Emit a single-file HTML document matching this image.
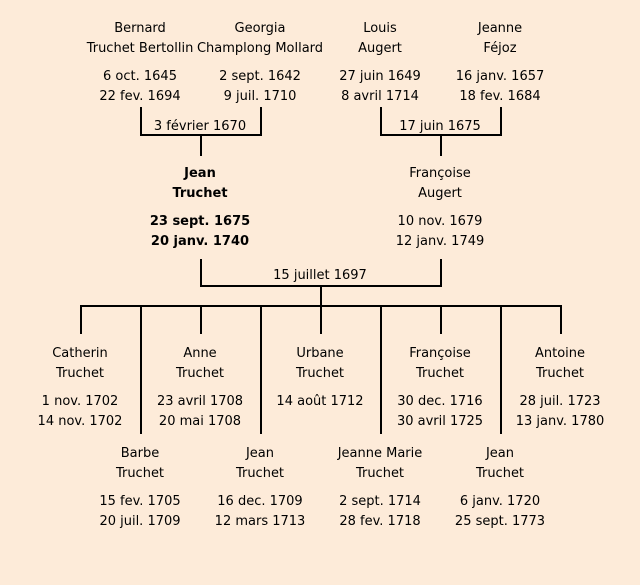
<!DOCTYPE html>
<html><head><meta charset="utf-8"><style>
body{margin:0;width:640px;height:585px;background:#fdebd9;position:relative;overflow:hidden;font-family:"Comic Sans MS","DejaVu Sans","Liberation Sans",sans-serif;font-size:13px;color:#000}
.t{position:absolute;width:200px;text-align:center;line-height:20px;white-space:nowrap;margin-top:2px}
.b{font-weight:bold}
.l{position:absolute;background:#000}
</style></head><body>
<div class="l" style="left:140px;top:107px;width:2px;height:29px"></div>
<div class="l" style="left:260px;top:107px;width:2px;height:29px"></div>
<div class="l" style="left:140px;top:134px;width:122px;height:2px"></div>
<div class="l" style="left:200px;top:134px;width:2px;height:22px"></div>
<div class="l" style="left:380px;top:107px;width:2px;height:29px"></div>
<div class="l" style="left:500px;top:107px;width:2px;height:29px"></div>
<div class="l" style="left:380px;top:134px;width:122px;height:2px"></div>
<div class="l" style="left:440px;top:134px;width:2px;height:22px"></div>
<div class="l" style="left:200px;top:259px;width:2px;height:28px"></div>
<div class="l" style="left:440px;top:259px;width:2px;height:28px"></div>
<div class="l" style="left:200px;top:285px;width:242px;height:2px"></div>
<div class="l" style="left:320px;top:285px;width:2px;height:22px"></div>
<div class="l" style="left:80px;top:305px;width:482px;height:2px"></div>
<div class="l" style="left:80px;top:305px;width:2px;height:29px"></div>
<div class="l" style="left:200px;top:305px;width:2px;height:29px"></div>
<div class="l" style="left:320px;top:305px;width:2px;height:29px"></div>
<div class="l" style="left:440px;top:305px;width:2px;height:29px"></div>
<div class="l" style="left:560px;top:305px;width:2px;height:29px"></div>
<div class="l" style="left:140px;top:305px;width:2px;height:129px"></div>
<div class="l" style="left:260px;top:305px;width:2px;height:129px"></div>
<div class="l" style="left:380px;top:305px;width:2px;height:129px"></div>
<div class="l" style="left:500px;top:305px;width:2px;height:129px"></div>
<div class="t" style="left:100px;top:115px">3 février 1670</div>
<div class="t" style="left:340px;top:115px">17 juin 1675</div>
<div class="t" style="left:220px;top:264px">15 juillet 1697</div>
<div class="t" style="left:40px;top:17px">Bernard<br>Truchet Bertollin</div>
<div class="t" style="left:40px;top:65px">6 oct. 1645<br>22 fev. 1694</div>
<div class="t" style="left:160px;top:17px">Georgia<br>Champlong Mollard</div>
<div class="t" style="left:160px;top:65px">2 sept. 1642<br>9 juil. 1710</div>
<div class="t" style="left:280px;top:17px">Louis<br>Augert</div>
<div class="t" style="left:280px;top:65px">27 juin 1649<br>8 avril 1714</div>
<div class="t" style="left:400px;top:17px">Jeanne<br>Féjoz</div>
<div class="t" style="left:400px;top:65px">16 janv. 1657<br>18 fev. 1684</div>
<div class="t b" style="left:100px;top:162px">Jean<br>Truchet</div>
<div class="t b" style="left:100px;top:210px">23 sept. 1675<br>20 janv. 1740</div>
<div class="t" style="left:340px;top:162px">Françoise<br>Augert</div>
<div class="t" style="left:340px;top:210px">10 nov. 1679<br>12 janv. 1749</div>
<div class="t" style="left:-20px;top:342px">Catherin<br>Truchet</div>
<div class="t" style="left:-20px;top:390px">1 nov. 1702<br>14 nov. 1702</div>
<div class="t" style="left:100px;top:342px">Anne<br>Truchet</div>
<div class="t" style="left:100px;top:390px">23 avril 1708<br>20 mai 1708</div>
<div class="t" style="left:220px;top:342px">Urbane<br>Truchet</div>
<div class="t" style="left:220px;top:390px">14 août 1712</div>
<div class="t" style="left:340px;top:342px">Françoise<br>Truchet</div>
<div class="t" style="left:340px;top:390px">30 dec. 1716<br>30 avril 1725</div>
<div class="t" style="left:460px;top:342px">Antoine<br>Truchet</div>
<div class="t" style="left:460px;top:390px">28 juil. 1723<br>13 janv. 1780</div>
<div class="t" style="left:40px;top:442px">Barbe<br>Truchet</div>
<div class="t" style="left:40px;top:490px">15 fev. 1705<br>20 juil. 1709</div>
<div class="t" style="left:160px;top:442px">Jean<br>Truchet</div>
<div class="t" style="left:160px;top:490px">16 dec. 1709<br>12 mars 1713</div>
<div class="t" style="left:280px;top:442px">Jeanne Marie<br>Truchet</div>
<div class="t" style="left:280px;top:490px">2 sept. 1714<br>28 fev. 1718</div>
<div class="t" style="left:400px;top:442px">Jean<br>Truchet</div>
<div class="t" style="left:400px;top:490px">6 janv. 1720<br>25 sept. 1773</div>
</body></html>
